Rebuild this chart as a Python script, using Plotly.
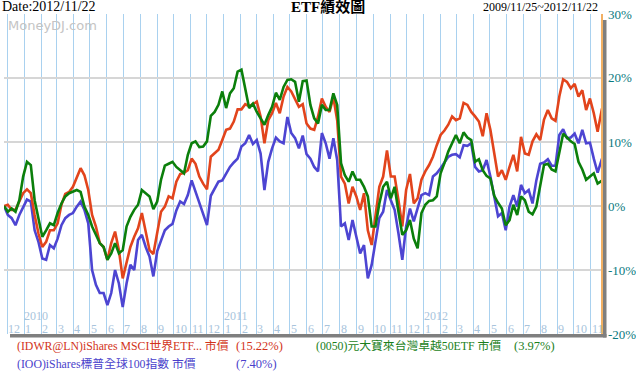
import pandas as pd
import plotly.graph_objects as go

# ---- data (weekly samples, % change since 2009/11/25) ----
dates = list(pd.date_range("2009-11-25", periods=157, freq="7D").strftime("%Y-%m-%d"))
dates[-1] = "2012-11-22"

idwr = [0.0, 0.2, -0.6, -0.6, 0.7, 2.0, 2.6, 2.0, -1.4, -4.3,
        -6.4, -5.6, -3.8, -3.8, -2.7, 0.2, 1.9, 2.2, 3.0, 4.6,
        5.9, 4.8, 2.5, -1.4, -3.2, -5.8, -6.4, -8.4, -5.8, -4.0,
        -6.9, -11.3, -9.0, -6.4, -4.8, -3.5, -1.1, -4.3, -6.9, -7.5,
        -4.0, -0.9, -0.1, 1.5, 1.2, 3.8, 5.0, 5.2, 5.6, 7.4,
        6.6, 4.6, 3.5, 2.6, 7.7, 8.2, 8.8, 10.3, 11.9, 12.1,
        13.2, 15.1, 15.1, 15.9, 15.6, 15.9, 16.3, 14.0, 9.8, 13.4,
        14.5, 16.1, 14.5, 17.1, 18.6, 17.9, 16.8, 15.5, 15.9, 12.9,
        12.1, 11.9, 14.0, 16.8, 15.5, 14.7, 17.0, 13.4, 4.6, 3.5,
        0.4, 3.0, 1.5, -0.6, 2.0, -3.8, -6.1, -1.7, 3.0, 4.6,
        8.7, 4.6, 4.6, 0.9, -3.2, 2.5, 5.0, 0.4, 1.2, 4.1,
        5.4, 6.4, 7.7, 9.5, 11.1, 11.8, 12.7, 14.0, 13.4, 13.7,
        16.1, 15.8, 14.7, 14.0, 13.2, 10.9, 14.5, 11.9, 8.0, 4.6,
        5.6, 4.1, 6.1, 8.0, 5.4, 10.8, 8.2, 8.0, 10.1, 11.2,
        10.3, 13.5, 15.0, 13.7, 13.3, 17.1, 19.8, 19.4, 18.4, 19.1,
        17.1, 18.1, 15.0, 16.8, 14.5, 11.6, 15.22]

tw0050 = [0.0, -0.9, -0.4, -0.9, 0.9, 4.6, 6.9, 6.4, 0.9, -2.2,
          -4.8, -3.8, -2.7, -3.0, -1.1, 0.4, 1.5, 2.0, 2.2, 2.5,
          2.2, -0.1, -1.4, -3.2, -4.5, -5.8, -6.4, -8.4, -7.4, -5.8,
          -7.4, -6.9, -3.2, -1.7, -0.6, 0.2, 2.5, 2.0, 1.5, -0.5,
          0.7, 4.1, 6.3, 6.6, 6.9, 6.1, 5.6, 5.1, 8.0, 9.8,
          10.1, 9.2, 9.3, 10.1, 14.1, 14.7, 15.8, 17.9, 15.3, 17.6,
          18.4, 21.0, 21.3, 18.4, 15.3, 16.0, 14.7, 13.7, 12.7, 14.2,
          15.5, 17.7, 16.6, 18.6, 19.7, 19.8, 19.4, 16.3, 19.5, 19.6,
          15.8, 13.7, 12.9, 15.8, 15.0, 15.0, 17.6, 15.8, 6.7, 4.8,
          3.8, 5.4, 4.1, 4.1, 3.0, 1.5, -3.2, -3.2, 0.4, 3.0,
          3.8, 1.2, 3.0, -0.9, -4.5, -3.8, -2.2, -5.1, -6.6, -1.1,
          0.2, 0.8, 0.9, 1.5, 5.1, 6.7, 8.5, 9.8, 11.1, 9.8,
          11.5, 10.7, 10.3, 6.9, 7.3, 5.6, 4.7, 4.3, 1.6, 0.5,
          -0.4, -3.0, -2.2, 0.2, -1.4, 1.5, 0.9, -0.9, -1.3, -0.1,
          3.4, 6.4, 6.6, 5.7, 5.4, 8.5, 11.3, 10.7, 10.1, 9.7,
          6.9, 5.7, 4.1, 4.6, 5.1, 3.5, 3.97]

ioo = [0.0, -1.4, -1.9, -3.0, -1.4, -0.1, 1.0, 0.7, -3.8, -5.6,
       -8.2, -8.4, -6.1, -6.6, -5.1, -3.0, -1.9, -1.4, -1.1, -0.1,
       0.7, -0.6, -2.7, -10.0, -12.3, -13.6, -13.6, -15.5, -13.6, -10.0,
       -12.1, -15.8, -12.1, -9.2, -10.0, -5.3, -4.5, -6.4, -7.9, -11.0,
       -7.1, -5.4, -3.8, -3.2, -2.8, -0.7, 0.7, 0.3, 1.7, 4.0,
       2.2, 0.7, -1.1, -3.0, 1.6, 2.7, 3.8, 4.0, 5.0, 6.1,
       6.8, 7.4, 9.3, 9.8, 11.1, 9.7, 10.3, 8.2, 2.5, 6.9,
       9.0, 10.7, 10.1, 9.8, 13.9, 11.4, 10.6, 9.0, 11.0, 8.1,
       7.4, 6.1, 5.4, 11.4, 9.8, 7.4, 10.6, 7.2, -3.2, -2.7,
       -5.3, -2.2, -4.8, -7.4, -6.1, -11.3, -9.2, -5.3, -1.9, -0.9,
       2.5, 0.9, -0.6, -4.3, -8.4, -3.2, -0.4, -2.4, -0.4, 1.7,
       2.0, 1.7, 4.6, 5.1, 5.9, 6.9, 7.7, 8.0, 8.1, 7.6,
       9.5, 9.4, 9.8, 6.1, 5.4, 5.6, 7.2, 4.6, 1.2, -1.6,
       -1.1, -3.8, -0.1, 1.7, -0.1, 3.3, 2.0, 2.5, 0.4, 4.0,
       6.6, 6.8, 7.3, 6.3, 6.3, 11.1, 12.0, 10.6, 10.7, 11.3,
       9.8, 11.9, 9.8, 9.9, 7.4, 5.2, 7.40]

series_names = ["(IDWR@LN)iShares MSCI世界ETF... 市價",
                "(0050)元大寶來台灣卓越50ETF 市價",
                "(IOO)iShares標普全球100指數 市價"]
series_last = ["(15.22%)", "(3.97%)", "(7.40%)"]
y_ticks = [-20, -10, 0, 10, 20, 30]
Y_MIN, Y_MAX = -20, 30

RED, GREEN, BLUE = "#E2441C", "#0B7F0B", "#4D45D2"
TICK_COLOR = "#0A7A80"
W, H = 636, 378
L, R, T, B = 4, 602, 14, 334

def px(x):
    return (x - L) / (R - L)

def py(y):
    return (B - y) / (B - T)

fig = go.Figure()
for vals, col in [(ioo, BLUE), (idwr, RED), (tw0050, GREEN)]:
    fig.add_trace(go.Scatter(x=dates, y=vals, mode="lines",
                             line=dict(color=col, width=2.6), showlegend=False,
                             hoverinfo="skip"))

fig.update_layout(
    width=W, height=H, margin=dict(l=L, r=W - R, t=T, b=H - B),
    paper_bgcolor="white", plot_bgcolor="white", showlegend=False,
    xaxis=dict(type="date", range=["2009-11-25", "2012-11-22"],
               tick0="2009-12-01", dtick="M1", showgrid=True,
               gridcolor="#A9D1EF", gridwidth=1, showticklabels=False,
               zeroline=False, showline=False, ticks=""),
    yaxis=dict(range=[Y_MIN, Y_MAX], tickvals=y_ticks, showticklabels=False,
               side="right", showgrid=True, gridcolor="#D6D6D6", gridwidth=1.5,
               zeroline=False, showline=False, ticks="", automargin=False),
)

# frame decorations
shapes = [
    dict(type="line", xref="paper", yref="paper", x0=px(602), x1=px(602),
         y0=py(14), y1=py(334), line=dict(color="#F2B063", width=2)),
    dict(type="rect", xref="paper", yref="paper", x0=px(603), x1=px(606.5),
         y0=py(20), y1=py(337.5), fillcolor="#7F7F7F", line=dict(width=0)),
    dict(type="rect", xref="paper", yref="paper", x0=px(10), x1=px(606.5),
         y0=py(334), y1=py(337.5), fillcolor="#7F7F7F", line=dict(width=0)),
]
fig.update_layout(shapes=shapes)

def text(x, y, s, size, color, family="Liberation Serif", anchor="left", bold=False):
    fig.add_annotation(x=px(x), y=py(y), xref="paper", yref="paper",
                       text=("<b>%s</b>" % s) if bold else s, showarrow=False,
                       xanchor=anchor, yanchor="middle", borderpad=0,
                       font=dict(family=family, size=size, color=color))

# header
text(1, 7, "Date:2012/11/22", 14, "#000000")
text(328, 7, "ETF績效圖", 15, "#000000", family="Liberation Serif, Noto Sans CJK TC",
     anchor="center", bold=True)
text(599, 7, "2009/11/25~2012/11/22", 12, "#000000", anchor="right")
text(7, 25, "MoneyDJ.com", 13, "#C4C4C4", family="DejaVu Sans")

# right-hand percent labels, aligned with the y-axis grid lines
for v in y_ticks:
    fig.add_annotation(x=px(606.5), y=(v - Y_MIN) / (Y_MAX - Y_MIN),
                       xref="paper", yref="paper",
                       text="%d%%" % v, showarrow=False, xanchor="left",
                       yanchor="middle", borderpad=0, captureevents=False,
                       font=dict(family="Liberation Serif", size=13, color=TICK_COLOR))

# month / year labels along the bottom inside the plot
months = pd.date_range("2009-12-01", "2012-11-01", freq="MS")
for d in months:
    fig.add_annotation(x=d.strftime("%Y-%m-%d"), y=py(328.5), xref="x", yref="paper",
                       text=str(d.month), showarrow=False, xanchor="left",
                       yanchor="middle", xshift=0, borderpad=0,
                       font=dict(family="Liberation Serif", size=12, color="#A8C4DC"))
    if d.month == 1:
        fig.add_annotation(x=d.strftime("%Y-%m-%d"), y=py(315.5), xref="x", yref="paper",
                           text=str(d.year), showarrow=False, xanchor="left",
                           yanchor="middle", xshift=-1, borderpad=0,
                           font=dict(family="Liberation Serif", size=12, color="#A8C4DC"))

# legend rows
text(16, 346, series_names[0], 11.8, "#D2331A", family="Liberation Serif, Noto Sans CJK TC")
text(235, 346, series_last[0], 12.5, "#D2331A")
text(315, 346, series_names[1], 11.8, "#1B7F1B", family="Liberation Serif, Noto Sans CJK TC")
text(513, 346, series_last[1], 12.5, "#1B7F1B")
text(16, 364, series_names[2], 11.8, "#4A3FCB", family="Liberation Serif, Noto Sans CJK TC")
text(235, 364, series_last[2], 12.5, "#4A3FCB")

fig.write_html("out.html", config={"displayModeBar": False, "staticPlot": True},
               post_script="document.body.style.margin='0px';")
